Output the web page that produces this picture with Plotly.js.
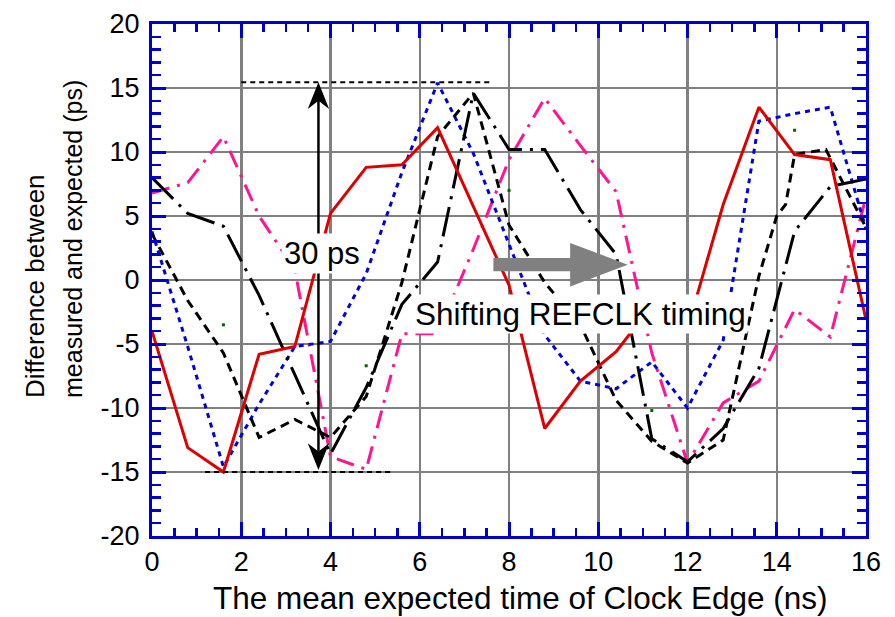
<!DOCTYPE html>
<html>
<head>
<meta charset="utf-8">
<script src="https://cdn.plot.ly/plotly-3.0.1.min.js"></script>
<style>html,body{margin:0;padding:0;background:#fff;}#chart{width:895px;height:617px;}</style>
</head>
<body>
<div id="chart"></div>
<script>
// ---- data ----
const xTime = [0,0.8,1.6,2.4,3.2,4.0,4.8,5.6,6.4,7.2,8.0,8.8,9.6,10.4,11.2,12.0,12.8,13.6,14.4,15.2,16.0];
const redVals = [-4.0,-13.1,-15.0,-5.8,-5.2,5.2,8.8,9.0,11.9,5.7,-0.4,-11.6,-7.9,-5.6,-2.0,-3.8,5.9,13.5,9.8,9.4,-3.1];
const blueVals = [3.8,-5.2,-14.6,-9.7,-5.2,-4.8,0.5,8.4,15.4,9.9,2.8,-4.3,-7.9,-8.5,-6.4,-10.0,-4.7,12.4,13.0,13.5,4.0];
const blackDashX = [0,0.8,1.6,2.4,3.2,4.0,4.8,5.6,6.4,7.2,8.0,8.8,9.6,10.4,11.2,12.0,12.8,13.6,14.0,14.2,14.4,15.1,16.0];
const blackDashVals = [3.6,-1.6,-5.7,-12.3,-10.9,-12.3,-9.1,-0.2,11.2,14.6,4.3,-0.2,-3.5,-9.4,-12.6,-14.3,-12.5,0.3,5.0,5.9,9.8,10.2,4.1];
const blackDashDotVals = [8.0,5.2,4.2,-1.2,-7.4,-13.6,-8.4,-1.9,1.4,14.6,10.2,10.2,5.5,2.0,-12.4,-14.2,-11.6,-6.9,3.8,7.3,7.9];
const magentaVals = [6.8,7.6,11.2,5.0,0.8,-13.8,-14.8,-4.2,-4.2,2.4,9.4,14.2,10.5,6.9,-5.7,-14.3,-9.6,-7.9,-2.3,-4.45,6.5];
const greenX = [1.6,4.8,8.0,11.2,14.4];
const greenVals = [-3.5,-6.7,7.0,-10.2,11.7];

const xTickVals = [0,2,4,6,8,10,12,14,16];
const yTickVals = [-20,-15,-10,-5,0,5,10,15,20];
const xTitle = 'The mean expected time of Clock Edge (ns)';
const yTitle1 = 'Difference between';
const yTitle2 = 'measured and expected (ps)';
const label30 = '30 ps';
const labelShift = 'Shifting REFCLK timing';

// ---- styling ----
const FONT = 'Liberation Sans, Arial, Helvetica, sans-serif';
const AXBLUE = '#0000cc';
const GRID = '#808080';

const traces = [
  {x: greenX, y: greenVals, mode: 'markers', marker: {color: '#006400', size: 3, symbol: 'square'}},
  {x: xTime, y: magentaVals, mode: 'lines', line: {color: '#ff1493', width: 3, dash: '18px,8px,3px,8px'}},
  {x: xTime, y: blueVals, mode: 'lines', line: {color: '#0000dd', width: 3, dash: '5px,5px'}},
  {x: blackDashX, y: blackDashVals, mode: 'lines', line: {color: '#000000', width: 3, dash: '9px,6px'}},
  {x: xTime, y: blackDashDotVals, mode: 'lines', line: {color: '#000000', width: 3, dash: '30px,8px,3px,8px'}},
  {x: xTime, y: redVals, mode: 'lines', line: {color: '#dd0000', width: 3}}
];

function axisCommon() {
  return {
    showgrid: true, gridcolor: GRID, gridwidth: 2.5,
    zeroline: false,
    showline: true, linecolor: AXBLUE, linewidth: 3, mirror: 'ticks',
    ticks: 'inside', ticklen: 14, tickwidth: 3, tickcolor: AXBLUE,
    tickfont: {family: FONT, size: 27, color: '#000'},
    fixedrange: true
  };
}

const xaxis = Object.assign(axisCommon(), {
  range: [0, 16], tickvals: xTickVals, ticktext: xTickVals.map(String),
  minor: {dtick: 0.5, tick0: 0, ticks: 'inside', ticklen: 8, tickwidth: 2.5, tickcolor: AXBLUE, showgrid: false},
  ticklabelstandoff: 0
});
const yaxis = Object.assign(axisCommon(), {
  range: [-20, 20], tickvals: yTickVals, ticktext: yTickVals.map(String),
  minor: {dtick: 1, tick0: 0, ticks: 'inside', ticklen: 9, tickwidth: 2.5, tickcolor: AXBLUE, showgrid: false},
  ticklabelstandoff: 4
});

// pixel -> paper helpers (plot area 152..866 x 24..536)
const L = 152, R = 29, T = 24, B = 81, W = 895, H = 617;
const pw = W - L - R, ph = H - T - B;
const px = X => (X - L) / pw;
const py = Y => (H - B - Y) / ph;

// annotation geometry
const arrowX = 3.73, arrowTop = 15.45, arrowBot = -14.85;
const headHalfW = 0.24, headLen = 2.1, headNotch = 1.45;
const gray = {x0: 7.65, xh: 9.37, xt: 10.66, yc: 1.2, shaftHalf: 0.52, headHalf: 1.7};

const shapes = [
  {type: 'line', xref: 'x', yref: 'y', x0: 2.0, x1: 7.62, y0: 15.45, y1: 15.45, line: {color: '#000', width: 2, dash: '5px,4px'}},
  {type: 'line', xref: 'x', yref: 'y', x0: 1.19, x1: 5.41, y0: -15.0, y1: -15.0, line: {color: '#000', width: 2, dash: '5px,4px'}},
  {type: 'line', xref: 'x', yref: 'y', x0: arrowX, x1: arrowX, y0: arrowBot + headNotch, y1: arrowTop - headNotch, line: {color: '#000', width: 2.5}},
  {type: 'path', xref: 'x', yref: 'y', fillcolor: '#000', line: {width: 0},
   path: `M${arrowX},${arrowTop} L${arrowX + headHalfW},${arrowTop - headLen} L${arrowX},${arrowTop - headNotch} L${arrowX - headHalfW},${arrowTop - headLen} Z`},
  {type: 'path', xref: 'x', yref: 'y', fillcolor: '#000', line: {width: 0},
   path: `M${arrowX},${arrowBot} L${arrowX + headHalfW},${arrowBot + headLen} L${arrowX},${arrowBot + headNotch} L${arrowX - headHalfW},${arrowBot + headLen} Z`},
  {type: 'path', xref: 'x', yref: 'y', fillcolor: '#808080', line: {width: 0},
   path: `M${gray.x0},${gray.yc + gray.shaftHalf} L${gray.xh},${gray.yc + gray.shaftHalf} L${gray.xh},${gray.yc + gray.headHalf} L${gray.xt},${gray.yc} L${gray.xh},${gray.yc - gray.headHalf} L${gray.xh},${gray.yc - gray.shaftHalf} L${gray.x0},${gray.yc - gray.shaftHalf} Z`}
];

const annotations = [
  {xref: 'x', yref: 'y', x: 3.82, y: 2.05, text: label30, showarrow: false,
   font: {family: FONT, size: 31, color: '#000'}, bgcolor: '#ffffff', borderpad: 2},
  {xref: 'x', yref: 'y', x: 9.6, y: -2.66, text: labelShift, showarrow: false,
   font: {family: FONT, size: 31.5, color: '#000'}, bgcolor: '#ffffff', borderpad: 1},
  {xref: 'paper', yref: 'paper', x: px(520), y: py(598), text: xTitle, showarrow: false,
   xanchor: 'center', yanchor: 'middle', font: {family: FONT, size: 31.5, color: '#000'}},
  {xref: 'paper', yref: 'paper', x: px(35), y: py(400), text: yTitle1, showarrow: false, textangle: -90,
   xanchor: 'center', yanchor: 'bottom', font: {family: FONT, size: 26, color: '#000'}},
  {xref: 'paper', yref: 'paper', x: px(73), y: py(400), text: yTitle2, showarrow: false, textangle: -90,
   xanchor: 'center', yanchor: 'bottom', font: {family: FONT, size: 25, color: '#000'}}
];

const layout = {
  width: W, height: H,
  margin: {l: L, r: R, t: T, b: B, pad: 0},
  paper_bgcolor: '#fff', plot_bgcolor: '#fff',
  showlegend: false,
  xaxis: xaxis, yaxis: yaxis,
  shapes: shapes, annotations: annotations,
  font: {family: FONT}
};

Plotly.newPlot('chart', traces, layout, {displayModeBar: false, staticPlot: true});
</script>
</body>
</html>
